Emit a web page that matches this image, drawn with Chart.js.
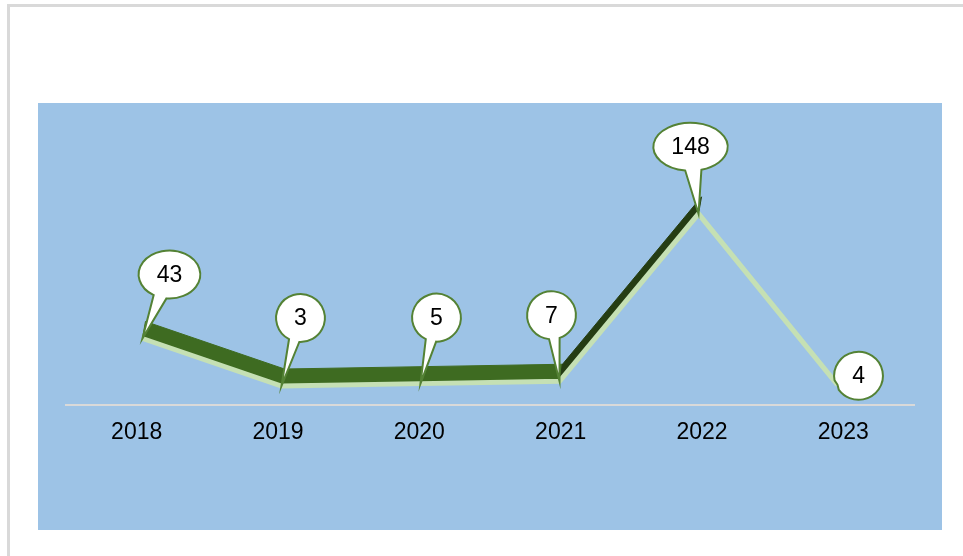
<!DOCTYPE html>
<html>
<head>
<meta charset="utf-8">
<title>2018-2023</title>
<script src="https://cdn.jsdelivr.net/npm/chart.js@4/dist/chart.umd.min.js"></script>
<style>
  html, body { margin: 0; padding: 0; background: #fff; }
  #wrap { position: relative; width: 963px; height: 556px; overflow: hidden; }
  #wrap canvas { position: absolute; left: 0; top: 0; }
  #frame {
    position: absolute; left: 7px; top: 4px; right: -10px; bottom: -10px;
    border-left: 3px solid #d9d9d9; border-top: 3px solid #d9d9d9;
    pointer-events: none;
  }
</style>
</head>
<body>
<div id="wrap">
  <canvas id="myChart" width="963" height="556"></canvas>
  <div id="frame"></div>
</div>
<script>
"use strict";
var years = ["2018", "2019", "2020", "2021", "2022", "2023"];
var counts = [43, 3, 5, 7, 148, 4];

// ribbon face colour per segment, null where the face turns away
var ribbonColors = ["#3e6b21", "#3e6b21", "#3e6b21", "#253d13", null];
var ribbonDepth = { x: 3, y: -17 };
// callout centre relative to its point
var calloutOffsets = [[27, -64], [19, -68], [16, -66], [-8, -66], [-8, -67], [21, -9]];

var FONT = "'Liberation Sans', Arial, sans-serif";

var plotBackground = {
  id: "plotBackground",
  beforeDraw: function (chart) {
    var ctx = chart.ctx;
    ctx.save();
    ctx.fillStyle = "#9dc3e6";
    ctx.fillRect(38, 103, 904, 427);
    ctx.restore();
  },
};

var ribbon = {
  id: "ribbon",
  beforeDatasetsDraw: function (chart) {
    var ctx = chart.ctx;
    var pts = chart.getDatasetMeta(0).data;
    ctx.save();
    for (var i = 0; i < pts.length - 1; i++) {
      if (!ribbonColors[i]) continue;
      var a = pts[i], b = pts[i + 1];
      ctx.beginPath();
      ctx.moveTo(a.x, a.y);
      ctx.lineTo(b.x, b.y);
      ctx.lineTo(b.x + ribbonDepth.x, b.y + ribbonDepth.y);
      ctx.lineTo(a.x + ribbonDepth.x, a.y + ribbonDepth.y);
      ctx.closePath();
      ctx.fillStyle = ribbonColors[i];
      ctx.fill();
      ctx.strokeStyle = ribbonColors[i];
      ctx.lineWidth = 1;
      ctx.stroke();
    }
    ctx.restore();
  },
};

function drawCallout(ctx, tipX, tipY, cx, cy, text) {
  ctx.font = "23px " + FONT;
  var w = ctx.measureText(text).width;
  var rx = Math.max(20.5, w / 2 + 18);
  var ry = 24;
  var t = Math.atan2((tipY - cy) / ry, (tipX - cx) / rx);
  var d = 0.22;
  ctx.beginPath();
  ctx.ellipse(cx, cy, rx, ry, 0, t + d, t - d + Math.PI * 2);
  ctx.lineTo(tipX, tipY);
  ctx.closePath();
  ctx.fillStyle = "#ffffff";
  ctx.fill();
  ctx.lineWidth = 2;
  ctx.strokeStyle = "#548235";
  ctx.stroke();
  ctx.fillStyle = "#000000";
  ctx.textAlign = "center";
  ctx.textBaseline = "middle";
  ctx.fillText(text, cx, cy + 1);
}

var callouts = {
  id: "callouts",
  afterDatasetsDraw: function (chart) {
    var ctx = chart.ctx;
    var pts = chart.getDatasetMeta(0).data;
    ctx.save();
    pts.forEach(function (p, i) {
      var off = calloutOffsets[i];
      drawCallout(ctx, p.x, p.y, p.x + off[0], p.y + off[1], String(counts[i]));
    });
    ctx.restore();
  },
};

var ctx = document.getElementById("myChart");
var myLineChart = new Chart(ctx, {
  type: "line",
  data: {
    labels: years,
    datasets: [
      {
        data: counts.map(function (v, i) { return { x: i, y: v }; }),
        xAxisID: "xd",
        borderColor: "#c5e0b4",
        borderWidth: 5,
        pointRadius: 0,
        tension: 0,
        fill: false,
      },
    ],
  },
  plugins: [plotBackground, ribbon, callouts],
  options: {
    responsive: false,
    animation: false,
    layout: { padding: { top: 120, left: 66, right: 49, bottom: 0 } },
    plugins: { legend: { display: false }, tooltip: { enabled: false } },
    scales: {
      x: {
        type: "category",
        offset: true,
        grid: { display: false, drawTicks: false },
        border: { display: true, color: "#d9d9d9", width: 2 },
        ticks: { color: "#000000", padding: 14, font: { family: FONT, size: 23 } },
        afterFit: function (scale) { scale.height = 151; },
      },
      xd: { type: "linear", display: false, min: -0.55, max: 5.55 },
      y: { display: false, min: -13, max: 227 },
    },
  },
});
</script>
</body>
</html>
